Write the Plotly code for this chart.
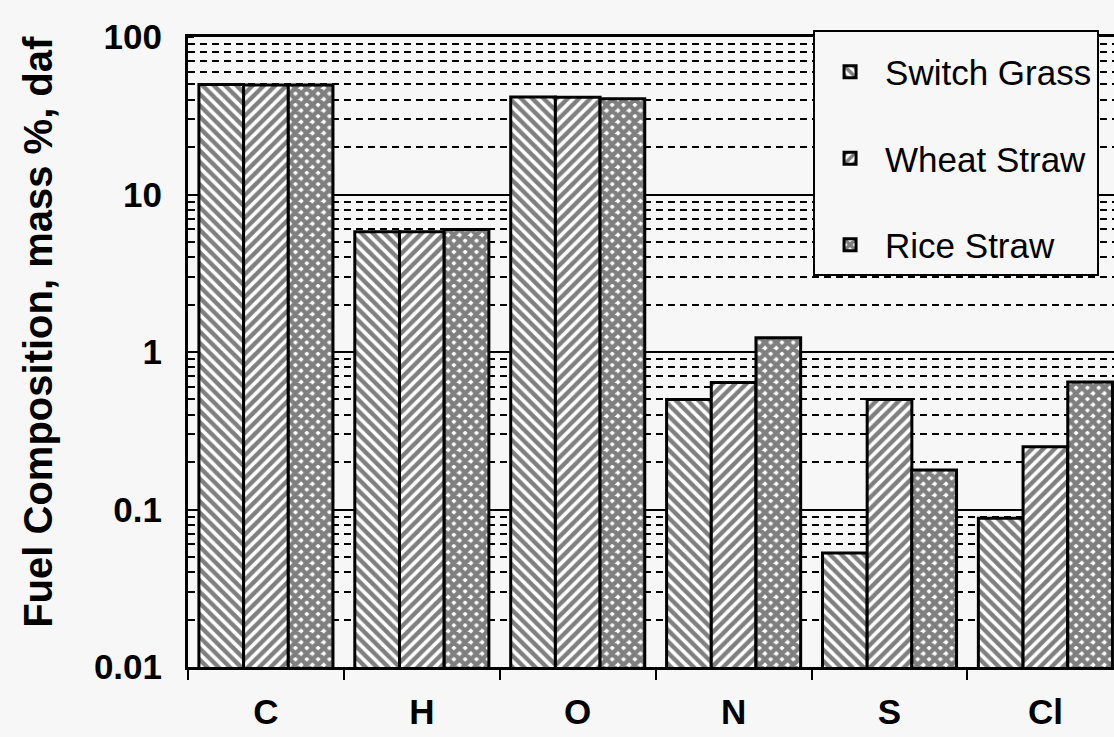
import plotly.graph_objects as go

categories = ["C", "H", "O", "N", "S", "Cl"]
switch_grass = [50.0, 5.8, 41.6, 0.50, 0.053, 0.088]
wheat_straw = [49.5, 5.8, 41.5, 0.64, 0.50, 0.25]
rice_straw = [49.5, 6.0, 40.5, 1.23, 0.178, 0.645]
series_names = ["Switch Grass", "Wheat Straw", "Rice Straw"]
y_tickvals = [0.01, 0.1, 1, 10, 100]
y_ticktext = ["0.01", "0.1", "1", "10", "100"]
y_title = "Fuel Composition, mass %, daf"

BG = "#f7f7f7"
FONT = "Liberation Sans, Arial, sans-serif"

fig = go.Figure()
patterns = [
    dict(shape="\\", fgcolor="black", bgcolor="white", size=8, solidity=0.55),
    dict(shape="/", fgcolor="black", bgcolor="white", size=8, solidity=0.55),
    dict(shape="x", fgcolor="black", bgcolor="white", size=8, solidity=0.8),
]
for i, (name, vals) in enumerate(zip(series_names, [switch_grass, wheat_straw, rice_straw])):
    fig.add_trace(go.Bar(
        x=categories, y=vals, name=name, legendgroup=name,
        marker=dict(color="white", line=dict(color="black", width=3), pattern=patterns[i]),
    ))

fig.add_annotation(
    text=y_title, textangle=-90, xref="paper", yref="paper",
    x=-0.162, y=0.532, xanchor="center", yanchor="middle", showarrow=False,
    font=dict(size=40, family=FONT, weight="bold", color="black"),
)

fig.update_layout(
    width=1114, height=737,
    margin=dict(l=188, r=0, t=37, b=70),
    paper_bgcolor=BG, plot_bgcolor=BG,
    barmode="group", bargap=0.14, bargroupgap=0,
    font=dict(family=FONT, color="black"),
    showlegend=True,
    legend=dict(
        x=0.675, y=1.011, xanchor="left", yanchor="top",
        bgcolor=BG, bordercolor="black", borderwidth=2,
        font=dict(size=35, family=FONT), traceorder="grouped", tracegroupgap=38,
        itemwidth=60,
        title=dict(text=" ", font=dict(size=8)),
    ),
    xaxis=dict(
        range=[-0.5, 5.44], showgrid=False, tickson="boundaries",
        ticks="outside", ticklen=10, tickwidth=2, tickcolor="black",
        showline=True, linecolor="black", linewidth=3, mirror=True,
        tickfont=dict(size=35, family=FONT, weight="bold"),
        ticklabelstandoff=12, automargin=False,
    ),
    yaxis=dict(
        type="log", range=[-2, 2], tickvals=y_tickvals, ticktext=y_ticktext,
        showline=True, linecolor="black", linewidth=3, mirror=True,
        ticks="", showgrid=True, gridcolor="black", gridwidth=2,
        tickfont=dict(size=35, family=FONT, weight="bold"),
        ticklabelstandoff=16, automargin=False,
        minor=dict(showgrid=True, gridcolor="black", gridwidth=2, griddash="7px,5px",
                   ticks="inside", ticklen=6, tickcolor="black", dtick="D1"),
        zeroline=False,
    ),
)

fig.write_html("out.html")
